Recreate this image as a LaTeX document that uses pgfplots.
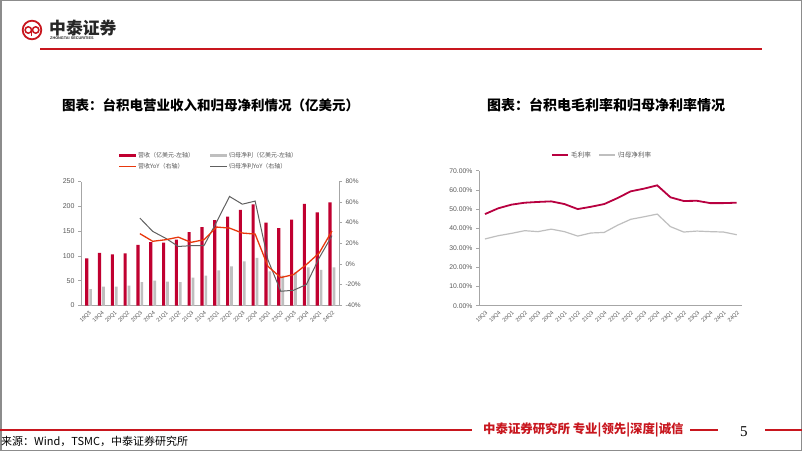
\documentclass[border=0pt]{standalone}
\usepackage{fontspec}
\setmainfont{Liberation Sans}
\newfontfamily\cjk{Noto Sans CJK SC}
\newfontfamily\serif{Liberation Serif}
\usepackage{pgfplots}
\pgfplotsset{compat=1.18}
\definecolor{crim}{HTML}{C00030}
\definecolor{gmred}{HTML}{B80040}
\definecolor{lgray}{HTML}{BFBFBF}
\definecolor{yoyred}{HTML}{E8380D}
\definecolor{dgray}{HTML}{606060}
\definecolor{axgray}{HTML}{A6A6A6}
\definecolor{txtgray}{HTML}{595959}
\definecolor{hdrred}{HTML}{C8161E}

\pgfplotstableread{
x rev np ryoy nyoy
0 95 33 nan nan
1 106 38 nan nan
2 103 38 nan nan
3 105 40 nan nan
4 122 47 29.4 44.5
5 128 50 22.0 31.6
6 127 48 23.5 25.0
7 133 47 26.0 17.0
8 148 56 21.0 17.7
9 158 60 23.5 17.7
10 172 71 35.8 41.0
11 179 79 34.8 65.5
12 193 89 30.0 58.0
13 204 96 29.0 61.0
14 167 69 -2.3 4.0
15 156 60 -13.2 -26.5
16 173 67 -10.3 -25.5
17 205 77 -0.6 -20.0
18 188 72 10.6 5.8
19 208 77 32.0 27.4
}\chartA

\pgfplotstableread{
x gm nm
0 47.5 34.6
1 50.5 36.3
2 52.4 37.5
3 53.4 38.9
4 53.8 38.4
5 54.1 39.7
6 52.7 38.4
7 50.1 36.1
8 51.3 37.7
9 52.7 38.0
10 55.8 41.7
11 59.3 44.8
12 60.7 46.1
13 62.4 47.5
14 56.2 41.0
15 54.3 38.2
16 54.4 38.7
17 53.2 38.4
18 53.2 38.2
19 53.4 36.8
}\chartB

\pgfplotsset{
  slidebase/.style={
    scale only axis, anchor=south west,
    /pgf/number format/assume math mode=true,
    axis line style={axgray, line width=0.6pt},
    tick style={axgray, line width=0.5pt},
    tick align=outside,
    major tick length=3pt, minor tick length=3pt,
    ticklabel style={text=txtgray},
    xtick={0,...,19},
    xticklabels={19Q3,19Q4,20Q1,20Q2,20Q3,20Q4,21Q1,21Q2,21Q3,21Q4,22Q1,22Q2,22Q3,22Q4,23Q1,23Q2,23Q3,23Q4,24Q1,24Q2},
    x tick label style={rotate=45, anchor=north east, font=\fontsize{5.5}{5.5}\selectfont, inner sep=1pt},
    x tick style={draw=none},
    minor xtick={-0.5,0.5,...,19.5},
    minor x tick style={axgray},
    hide obscured x ticks=false, hide obscured y ticks=false,
    clip=false,
  },
}

\begin{document}
\begin{tikzpicture}[x=1pt,y=1pt]
\path[use as bounding box, fill=white] (0,0) rectangle (802,451);
\draw[black!45, line width=1.5pt] (0.75,0.75) rectangle (801.25,450.25);

% logo
\draw[hdrred, line width=1.8pt] (32,421) circle (9.3);
\draw[hdrred, line width=1.5pt] (28.3,421) circle (3.2);
\draw[hdrred, line width=1.5pt] (35.7,421) circle (3.2);
\draw[hdrred, line width=1.5pt] (31.5,421) -- (31.5,414.5);
\node[anchor=west, inner sep=0, font=\cjk\bfseries\fontsize{16.8}{16.8}\selectfont, text=black!85] at (49,423) {中泰证券};
\node[anchor=west, inner sep=0, font=\bfseries\fontsize{3.8}{4}\selectfont, text=black!85] at (50,412.5) {ZHONGTAI SECURITIES};
\draw[hdrred, line width=1pt] (40,402) -- (762,402);

% titles
\node[anchor=west, inner sep=0, font=\cjk\bfseries\fontsize{13.5}{13.5}\selectfont] at (62,346) {图表：台积电营业收入和归母净利情况（亿美元）};
\node[anchor=west, inner sep=0, font=\cjk\bfseries\fontsize{14}{14}\selectfont] at (487,346) {图表：台积电毛利率和归母净利率情况};

% footer
\draw[hdrred, line width=1.4pt] (0,21) -- (472,21);
\node[anchor=west, inner sep=0, font=\cjk\bfseries\fontsize{12.4}{12.4}\selectfont, text=hdrred] at (483,21.5) {中泰证券研究所 专业|领先|深度|诚信};
\draw[hdrred, line width=2pt] (690,21) -- (718,21);
\node[anchor=west, inner sep=0, font=\serif\fontsize{15}{15}\selectfont] at (740,19) {5};
\draw[hdrred, line width=2pt] (765,21) -- (802,21);
\node[anchor=west, inner sep=0, font=\cjk\fontsize{11}{11}\selectfont] at (1,9.5) {来源：Wind，TSMC，中泰证券研究所};

% chart 1 left axis
\begin{axis}[slidebase,
  at={(81pt,145.5pt)}, width=258pt, height=124pt,
  xmin=-0.6, xmax=19.55, ymin=0, ymax=250,
  ytick={0,50,...,250},
  axis y line*=left, axis x line*=bottom,
  y tick label style={font=\fontsize{7}{7}\selectfont},
  legend columns=2,
  legend style={at={(0.1445,1.1665)}, anchor=west, draw=none, fill=none,
    font=\cjk\fontsize{6}{6}\selectfont, text=txtgray, inner sep=0pt,
    nodes={inner sep=0.5pt},
    row sep=3.5pt, column sep=1pt, cells={anchor=west},
    /tikz/every even column/.append style={column sep=15pt}},
]
\addplot[ybar, bar width=3.1pt, bar shift=-1.95pt, fill=crim, draw=none,
  legend image code/.code={\fill[crim] (0pt,-1.6pt) rectangle (17pt,1.6pt);}]
  table[x=x, y=rev] {\chartA};
\addlegendentry{营收（亿美元-左轴）}
\addplot[ybar, bar width=2.7pt, bar shift=1.95pt, fill=lgray, draw=none,
  legend image code/.code={\fill[lgray] (0pt,-1.6pt) rectangle (17pt,1.6pt);}]
  table[x=x, y=np] {\chartA};
\addlegendentry{归母净利（亿美元-左轴）}
\addlegendimage{legend image code/.code={\draw[yoyred, line width=1.1pt] (0pt,0pt) -- (17pt,0pt);}}
\addlegendentry{营收YoY（右轴）}
\addlegendimage{legend image code/.code={\draw[dgray, line width=0.9pt] (0pt,0pt) -- (17pt,0pt);}}
\addlegendentry{归母净利YoY（右轴）}
\end{axis}

% chart 1 right axis
\begin{axis}[slidebase,
  at={(81pt,145.5pt)}, width=258pt, height=124pt,
  xmin=-0.6, xmax=19.55, ymin=-40.3, ymax=80,
  ytick={-40,-20,0,20,40,60,80},
  yticklabels={-40\%,-20\%,0\%,20\%,40\%,60\%,80\%},
  axis y line*=right, axis x line=none,
  y tick label style={font=\fontsize{6.5}{6.5}\selectfont},
]
\addplot[dgray, line width=1pt, unbounded coords=jump] table[x=x, y=nyoy] {\chartA};
\addplot[yoyred, line width=1.3pt, unbounded coords=jump] table[x=x, y=ryoy] {\chartA};
\end{axis}

% chart 2
\begin{axis}[slidebase,
  at={(479pt,145.3pt)}, width=263pt, height=135pt,
  xmin=-0.45, xmax=19.4, ymin=0, ymax=70,
  ytick={0,10,...,70},
  axis y line*=left, axis x line*=bottom,
  yticklabel={\pgfmathprintnumber[fixed,fixed zerofill,precision=2]{\tick}\%},
  y tick label style={font=\fontsize{6.8}{6.8}\selectfont},
  legend columns=2,
  legend style={at={(0.2726,1.116)}, anchor=west, draw=none, fill=none,
    font=\cjk\fontsize{6.6}{6.6}\selectfont, text=txtgray, inner sep=0pt,
    nodes={inner sep=0.5pt}, column sep=2pt, cells={anchor=west},
    /tikz/every even column/.append style={column sep=7pt}},
]
\addplot[gmred, line width=1.8pt,
  legend image code/.code={\draw[gmred, line width=1.8pt] (0pt,0pt) -- (16pt,0pt);}]
  table[x=x, y=gm] {\chartB};
\addlegendentry{毛利率}
\addplot[lgray, line width=1.2pt,
  legend image code/.code={\draw[lgray, line width=1.2pt] (0pt,0pt) -- (16pt,0pt);}]
  table[x=x, y=nm] {\chartB};
\addlegendentry{归母净利率}
\end{axis}
\end{tikzpicture}
\end{document}
